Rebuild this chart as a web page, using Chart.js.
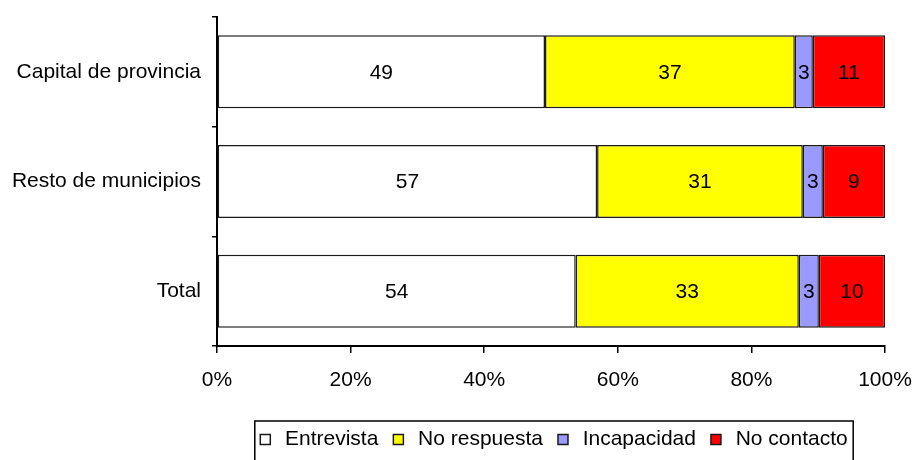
<!DOCTYPE html>
<html>
<head>
<meta charset="utf-8">
<script src="https://cdn.jsdelivr.net/npm/chart.js@4"></script>
<style>
  html, body { margin: 0; padding: 0; background: #fff; }
  #wrap { width: 914px; height: 460px; }
</style>
</head>
<body>
<div id="wrap"><canvas id="c" width="914" height="460"></canvas></div>
<script>
const categories = ['Capital de provincia', 'Resto de municipios', 'Total'];
const seriesNames = ['Entrevista', 'No respuesta', 'Incapacidad', 'No contacto'];
const entrevista = [49.1, 56.9, 53.7];
const noRespuesta = [37.4, 30.8, 33.4];
const incapacidad = [2.7, 3.0, 3.0];
const noContacto = [10.8, 9.3, 9.9];
const xTickValues = [0, 20, 40, 60, 80, 100];

const FONT = { family: '"Liberation Sans", Arial, sans-serif', size: 21 };
const colors = ['#ffffff', '#ffff00', '#9999ff', '#ff0000'];

const labelPlugin = {
  id: 'barLabels',
  afterLayout(chart) {
    const lg = chart.legend;
    if (lg) { lg.left = 223; lg.width = lg.right - lg.left; }
  },
  afterDatasetsDraw(chart) {
    const ctx = chart.ctx;
    ctx.save();
    ctx.font = '21px "Liberation Sans", Arial, sans-serif';
    ctx.fillStyle = '#000';
    ctx.textAlign = 'center';
    ctx.textBaseline = 'middle';
    chart.data.datasets.forEach((ds, di) => {
      const meta = chart.getDatasetMeta(di);
      meta.data.forEach((el, i) => {
        const p = el.getCenterPoint();
        ctx.fillText(String(Math.round(ds.data[i])), p.x, p.y + 1);
      });
    });
    ctx.restore();
  },
  afterDraw(chart) {
    const lg = chart.legend;
    if (!lg || !lg.legendHitBoxes || !lg.legendHitBoxes.length) return;
    const hb = lg.legendHitBoxes;
    let l = Infinity, r = -Infinity;
    hb.forEach(h => { l = Math.min(l, h.left); r = Math.max(r, h.left + h.width); });
    const ctx = chart.ctx;
    ctx.save();
    ctx.strokeStyle = '#000';
    ctx.lineWidth = 1.5;
    ctx.strokeRect(l - 5.5, lg.top + 7, (r - l) + 11, chart.height - lg.top);
    ctx.restore();
  }
};

const datasetValues = [entrevista, noRespuesta, incapacidad, noContacto];

new Chart(document.getElementById('c'), {
  type: 'bar',
  data: {
    labels: categories,
    datasets: datasetValues.map((vals, i) => ({
      label: seriesNames[i],
      data: vals,
      backgroundColor: colors[i],
      borderColor: '#1a1a1a',
      borderWidth: 1.5,
      borderSkipped: false,
      barPercentage: 0.665,
      categoryPercentage: 1.0
    }))
  },
  options: {
    indexAxis: 'y',
    responsive: false,
    animation: false,
    devicePixelRatio: 1,
    layout: { padding: { left: 0, right: 29, top: 17, bottom: 0 } },
    plugins: {
      tooltip: { enabled: false },
      legend: {
        position: 'bottom',
        labels: {
          font: FONT,
          color: '#000',
          boxWidth: 10,
          boxHeight: 10,
          padding: 15,
          generateLabels(chart) {
            const items = Chart.defaults.plugins.legend.labels.generateLabels(chart);
            items.forEach(it => { it.text = '\u2009' + it.text; });
            return items;
          }
        }
      }
    },
    scales: {
      x: {
        stacked: true,
        min: 0,
        max: 100,
        afterBuildTicks(scale) { scale.ticks = xTickValues.map(v => ({ value: v })); },
        afterFit(scale) { scale.height = 68; scale.paddingLeft = 0; scale.paddingRight = 0; },
        ticks: {
          font: FONT,
          color: '#000',
          padding: 15,
          callback: v => v + '%'
        },
        grid: {
          drawOnChartArea: false,
          drawTicks: true,
          tickLength: 7,
          color: '#000',
          lineWidth: 1.5
        },
        border: { color: '#000', width: 2 }
      },
      y: {
        stacked: true,
        afterFit(scale) { scale.width = 217; scale.paddingTop = 0; scale.paddingBottom = 0; },
        ticks: {
          font: FONT,
          color: '#000',
          padding: 11
        },
        grid: {
          offset: true,
          drawOnChartArea: false,
          drawTicks: true,
          tickLength: 5,
          color: '#000',
          lineWidth: 1.5
        },
        border: { color: '#000', width: 2 }
      }
    }
  },
  plugins: [labelPlugin]
});
</script>
</body>
</html>
